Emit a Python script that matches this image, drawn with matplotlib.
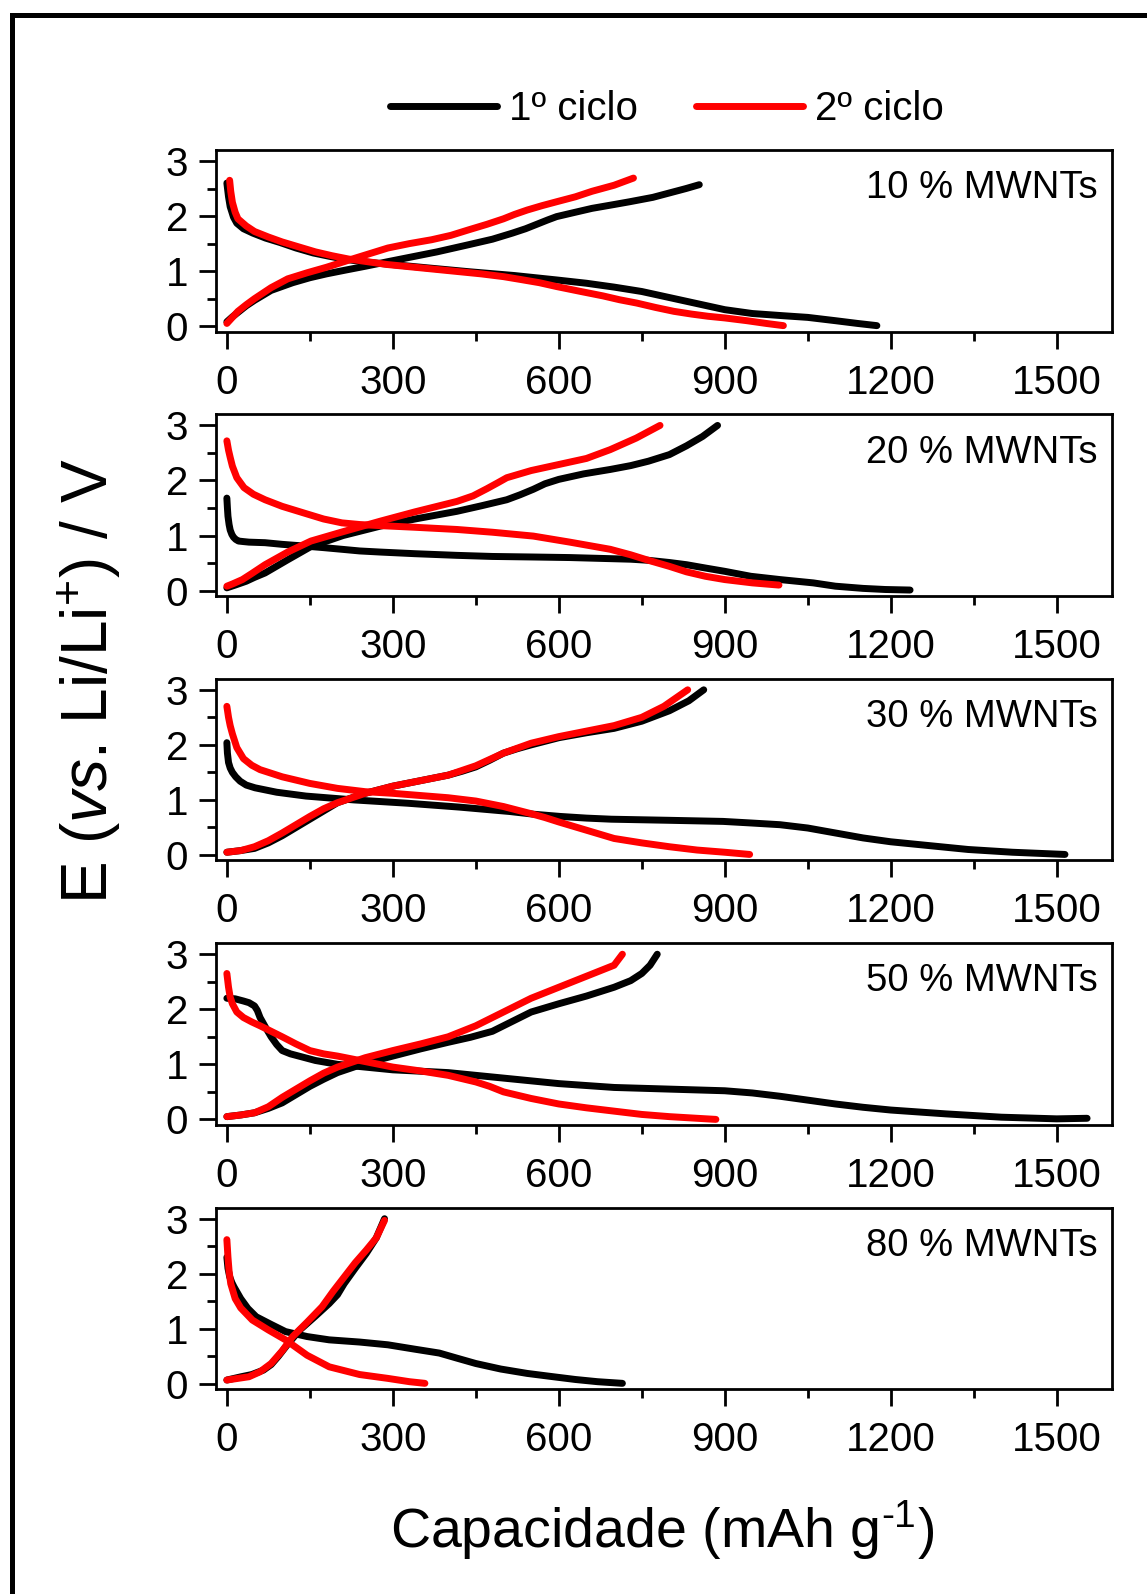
import matplotlib
matplotlib.use("Agg")
import matplotlib.pyplot as plt
from matplotlib.lines import Line2D
from matplotlib.ticker import MultipleLocator

plt.rcParams['font.family'] = ['Liberation Sans', 'DejaVu Sans']
plt.rcParams['mathtext.fontset'] = 'custom'
plt.rcParams['mathtext.rm'] = 'Liberation Sans'
plt.rcParams['mathtext.it'] = 'Liberation Sans:italic'

panel_labels = ['10 % MWNTs', '20 % MWNTs', '30 % MWNTs', '50 % MWNTs', '80 % MWNTs']
legend_labels = ['1º ciclo', '2º ciclo']
x_ticks = [0, 300, 600, 900, 1200, 1500]
y_ticks = [0, 1, 2, 3]

# 10 % MWNTs
c1_dis_10_x = [0, 3, 6, 12, 18, 30, 47, 70, 96, 125, 156, 185, 217, 247, 277, 320, 362, 437, 520, 596, 650, 700, 750, 800, 850, 900, 950, 1006, 1050, 1100, 1140, 1175]
c1_dis_10_y = [2.6, 2.35, 2.17, 1.98, 1.87, 1.77, 1.69, 1.6, 1.52, 1.42, 1.33, 1.27, 1.21, 1.17, 1.14, 1.1, 1.06, 0.99, 0.92, 0.84, 0.78, 0.71, 0.63, 0.52, 0.41, 0.3, 0.23, 0.19, 0.16, 0.1, 0.05, 0.01]
c1_cha_10_x = [0, 10, 20, 35, 50, 80, 119, 150, 180, 215, 251, 290, 330, 380, 437, 480, 516, 540, 560, 580, 596, 630, 660, 700, 728, 770, 800, 830, 854]
c1_cha_10_y = [0.08, 0.17, 0.25, 0.37, 0.47, 0.65, 0.79, 0.88, 0.95, 1.02, 1.09, 1.17, 1.25, 1.35, 1.48, 1.58, 1.69, 1.77, 1.85, 1.93, 1.99, 2.07, 2.14, 2.21, 2.26, 2.34, 2.42, 2.5, 2.57]
c2_dis_10_x = [5, 7, 10, 15, 20, 35, 50, 75, 100, 130, 160, 190, 220, 255, 290, 330, 380, 420, 460, 500, 530, 565, 596, 640, 680, 710, 741, 775, 808, 840, 870, 900, 940, 975, 1006]
c2_dis_10_y = [2.65, 2.45, 2.25, 2.07, 1.95, 1.82, 1.72, 1.62, 1.53, 1.44, 1.35, 1.28, 1.22, 1.17, 1.12, 1.08, 1.03, 0.99, 0.95, 0.9, 0.85, 0.79, 0.72, 0.63, 0.55, 0.48, 0.42, 0.34, 0.27, 0.22, 0.18, 0.15, 0.1, 0.05, 0.01]
c2_cha_10_x = [0, 10, 20, 35, 50, 80, 110, 145, 180, 230, 291, 330, 370, 405, 437, 470, 500, 520, 543, 570, 596, 630, 660, 700, 735]
c2_cha_10_y = [0.05, 0.16, 0.27, 0.39, 0.5, 0.7, 0.86, 0.97, 1.07, 1.23, 1.42, 1.5, 1.57, 1.65, 1.75, 1.85, 1.95, 2.03, 2.11, 2.19, 2.26, 2.35, 2.45, 2.56, 2.69]

# 20 % MWNTs
c1_dis_20_x = [0, 1, 2, 4, 6, 9, 12, 16, 21, 30, 40, 69, 100, 139, 175, 208, 240, 277, 340, 416, 480, 554, 620, 693, 730, 762, 800, 831, 865, 900, 947, 1000, 1060, 1100, 1150, 1190, 1235]
c1_dis_20_y = [1.68, 1.5, 1.35, 1.2, 1.1, 1.02, 0.97, 0.93, 0.9, 0.89, 0.88, 0.87, 0.84, 0.81, 0.78, 0.75, 0.72, 0.7, 0.67, 0.64, 0.62, 0.61, 0.6, 0.58, 0.57, 0.55, 0.51, 0.47, 0.41, 0.35, 0.26, 0.2, 0.14, 0.08, 0.04, 0.02, 0.01]
c1_cha_20_x = [0, 15, 35, 50, 69, 110, 152, 210, 277, 340, 416, 460, 506, 530, 554, 575, 600, 645, 693, 730, 762, 800, 831, 860, 887]
c1_cha_20_y = [0.05, 0.1, 0.17, 0.24, 0.32, 0.56, 0.8, 1.0, 1.17, 1.3, 1.44, 1.54, 1.65, 1.74, 1.84, 1.94, 2.02, 2.12, 2.2, 2.27, 2.35, 2.47, 2.63, 2.8, 3.0]
c2_dis_20_x = [0, 3, 6, 10, 18, 31, 48, 69, 100, 139, 175, 208, 240, 277, 340, 416, 480, 554, 620, 693, 730, 762, 800, 831, 865, 900, 950, 998]
c2_dis_20_y = [2.72, 2.55, 2.42, 2.26, 2.05, 1.87, 1.75, 1.65, 1.53, 1.41, 1.3, 1.23, 1.2, 1.18, 1.15, 1.11, 1.06, 0.99, 0.88, 0.75, 0.65, 0.55, 0.44, 0.34, 0.26, 0.2, 0.14, 0.1]
c2_cha_20_x = [0, 10, 28, 45, 69, 110, 152, 210, 277, 340, 416, 445, 470, 490, 506, 550, 600, 650, 693, 740, 783]
c2_cha_20_y = [0.08, 0.12, 0.2, 0.31, 0.47, 0.7, 0.9, 1.07, 1.26, 1.43, 1.62, 1.72, 1.85, 1.96, 2.05, 2.18, 2.29, 2.4, 2.56, 2.77, 3.0]

# 30 % MWNTs
c1_dis_30_x = [0, 1, 3, 6, 10, 16, 24, 35, 51, 90, 143, 230, 327, 420, 511, 555, 603, 650, 695, 800, 897, 950, 1000, 1050, 1100, 1150, 1200, 1270, 1340, 1420, 1515]
c1_dis_30_y = [2.04, 1.85, 1.68, 1.58, 1.5, 1.42, 1.34, 1.27, 1.22, 1.14, 1.07, 1.0, 0.94, 0.87, 0.79, 0.74, 0.7, 0.67, 0.65, 0.63, 0.61, 0.58, 0.55, 0.49, 0.4, 0.31, 0.24, 0.17, 0.1, 0.05, 0.01]
c1_cha_30_x = [0, 25, 50, 75, 100, 125, 150, 175, 200, 250, 300, 350, 400, 425, 450, 475, 500, 525, 550, 600, 650, 700, 750, 800, 835, 862]
c1_cha_30_y = [0.05, 0.08, 0.12, 0.22, 0.35, 0.5, 0.65, 0.8, 0.95, 1.12, 1.25, 1.35, 1.45, 1.52, 1.6, 1.72, 1.85, 1.93, 2.0, 2.13, 2.22, 2.3, 2.43, 2.62, 2.8, 3.0]
c2_dis_30_x = [0, 3, 6, 10, 18, 30, 45, 60, 100, 150, 200, 250, 300, 350, 400, 450, 500, 550, 575, 600, 650, 700, 750, 800, 850, 900, 945]
c2_dis_30_y = [2.7, 2.5, 2.35, 2.2, 1.95, 1.75, 1.63, 1.55, 1.42, 1.3, 1.21, 1.15, 1.12, 1.08, 1.04, 0.98, 0.88, 0.75, 0.68, 0.6, 0.45, 0.3, 0.22, 0.15, 0.09, 0.05, 0.01]
c2_cha_30_x = [0, 25, 50, 75, 100, 125, 150, 175, 200, 250, 300, 350, 400, 450, 500, 550, 600, 650, 700, 750, 790, 833]
c2_cha_30_y = [0.05, 0.08, 0.15, 0.26, 0.4, 0.55, 0.7, 0.84, 0.95, 1.12, 1.25, 1.35, 1.45, 1.62, 1.85, 2.03, 2.15, 2.25, 2.35, 2.5, 2.7, 3.0]

# 50 % MWNTs
c1_dis_50_x = [0, 15, 30, 40, 50, 55, 60, 70, 80, 90, 100, 115, 130, 160, 200, 250, 300, 400, 500, 600, 700, 800, 900, 950, 1000, 1050, 1100, 1150, 1200, 1300, 1400, 1500, 1555]
c1_dis_50_y = [2.2, 2.19, 2.15, 2.12, 2.06, 1.98, 1.85, 1.67, 1.5, 1.36, 1.25, 1.19, 1.15, 1.07, 1.0, 0.95, 0.9, 0.85, 0.75, 0.65, 0.58, 0.55, 0.52, 0.48, 0.42, 0.35, 0.28, 0.22, 0.17, 0.1, 0.04, 0.01, 0.02]
c1_cha_50_x = [0, 25, 50, 75, 100, 125, 150, 175, 200, 250, 300, 350, 400, 440, 480, 500, 520, 550, 600, 650, 700, 730, 750, 765, 778]
c1_cha_50_y = [0.05, 0.08, 0.12, 0.2, 0.3, 0.45, 0.6, 0.73, 0.85, 1.02, 1.15, 1.28, 1.4, 1.49, 1.6, 1.7, 1.8, 1.95, 2.1, 2.24, 2.4, 2.52, 2.65, 2.8, 3.0]
c2_dis_50_x = [0, 3, 6, 10, 18, 30, 45, 60, 80, 100, 125, 150, 175, 200, 250, 300, 350, 400, 450, 475, 500, 550, 600, 650, 700, 750, 800, 850, 884]
c2_dis_50_y = [2.65, 2.4, 2.22, 2.1, 1.95, 1.85, 1.77, 1.7, 1.6, 1.5, 1.37, 1.25, 1.19, 1.15, 1.05, 0.95, 0.88, 0.8, 0.68, 0.6, 0.5, 0.38, 0.28, 0.21, 0.15, 0.09, 0.05, 0.02, 0.0]
c2_cha_50_x = [0, 25, 50, 75, 100, 125, 150, 175, 200, 250, 300, 350, 400, 450, 500, 550, 600, 650, 700, 715]
c2_cha_50_y = [0.05, 0.08, 0.12, 0.23, 0.4, 0.55, 0.7, 0.84, 0.95, 1.12, 1.25, 1.37, 1.5, 1.7, 1.95, 2.2, 2.4, 2.6, 2.8, 3.0]

# 80 % MWNTs
c1_dis_80_x = [0, 2, 5, 9, 13, 25, 38, 53, 80, 106, 145, 185, 240, 291, 340, 384, 415, 450, 495, 543, 590, 630, 670, 715]
c1_dis_80_y = [2.3, 2.1, 1.95, 1.84, 1.76, 1.55, 1.37, 1.22, 1.08, 0.95, 0.86, 0.8, 0.76, 0.71, 0.63, 0.56, 0.47, 0.37, 0.27, 0.19, 0.13, 0.08, 0.04, 0.01]
c1_cha_80_x = [0, 26, 45, 66, 80, 93, 110, 132, 160, 185, 200, 212, 232, 252, 270, 285]
c1_cha_80_y = [0.07, 0.13, 0.17, 0.25, 0.35, 0.5, 0.72, 0.98, 1.23, 1.46, 1.62, 1.82, 2.1, 2.37, 2.65, 3.0]
c2_dis_80_x = [0, 2, 4, 7, 15, 25, 46, 75, 106, 145, 185, 240, 291, 330, 358]
c2_dis_80_y = [2.62, 2.3, 2.05, 1.82, 1.55, 1.38, 1.16, 0.98, 0.8, 0.52, 0.31, 0.17, 0.1, 0.04, 0.01]
c2_cha_80_x = [0, 20, 40, 60, 80, 100, 119, 145, 172, 192, 212, 232, 252, 270, 285]
c2_cha_80_y = [0.07, 0.1, 0.13, 0.22, 0.37, 0.6, 0.86, 1.12, 1.4, 1.68, 1.94, 2.2, 2.43, 2.65, 2.97]

panels = [
    [(c1_dis_10_x, c1_dis_10_y), (c1_cha_10_x, c1_cha_10_y), (c2_dis_10_x, c2_dis_10_y), (c2_cha_10_x, c2_cha_10_y)],
    [(c1_dis_20_x, c1_dis_20_y), (c1_cha_20_x, c1_cha_20_y), (c2_dis_20_x, c2_dis_20_y), (c2_cha_20_x, c2_cha_20_y)],
    [(c1_dis_30_x, c1_dis_30_y), (c1_cha_30_x, c1_cha_30_y), (c2_dis_30_x, c2_dis_30_y), (c2_cha_30_x, c2_cha_30_y)],
    [(c1_dis_50_x, c1_dis_50_y), (c1_cha_50_x, c1_cha_50_y), (c2_dis_50_x, c2_dis_50_y), (c2_cha_50_x, c2_cha_50_y)],
    [(c1_dis_80_x, c1_dis_80_y), (c1_cha_80_x, c1_cha_80_y), (c2_dis_80_x, c2_dis_80_y), (c2_cha_80_x, c2_cha_80_y)],
]

W, H = 1147, 1594
fig = plt.figure(figsize=(W / 100, H / 100), dpi=100)

ax_left = 215.8 / W
ax_w = (1112 - 215.8) / W
ax_h = 181.7 / H
tops = [150, 414.4, 678.8, 943.2, 1207.7]
colors = ['black', 'black', 'red', 'red']

for i, curves in enumerate(panels):
    ax = fig.add_axes([ax_left, 1 - (tops[i] + 181.7) / H, ax_w, ax_h])
    for (x, y), c in zip(curves, colors):
        ax.plot(x, y, color=c, lw=5, solid_capstyle='round', solid_joinstyle='round')
    ax.set_xlim(-20, 1600)
    ax.set_ylim(-0.1, 3.2)
    ax.set_xticks(x_ticks)
    ax.set_yticks(y_ticks)
    ax.xaxis.set_minor_locator(MultipleLocator(150))
    ax.yaxis.set_minor_locator(MultipleLocator(0.5))
    ax.tick_params(which='major', direction='out', length=12, width=2, labelsize=29)
    ax.tick_params(which='minor', direction='out', length=6.5, width=2)
    ax.tick_params(axis='x', which='major', pad=11)
    ax.tick_params(axis='y', which='major', pad=8)
    for s in ax.spines.values():
        s.set_linewidth(2)
    ax.text(0.984, 0.79, panel_labels[i], transform=ax.transAxes,
            ha='right', va='center', fontsize=27.5)

handles = [Line2D([], [], color='black', lw=5, solid_capstyle='round'),
           Line2D([], [], color='red', lw=5, solid_capstyle='round')]
fig.legend(handles, legend_labels, loc='center', bbox_to_anchor=(667 / W, 1 - 109 / H),
           ncol=2, frameon=False, fontsize=29, handlelength=2.65, handletextpad=0.3,
           columnspacing=1.45)

fig.text(89.5 / W, 1 - 681 / H, r'E ($\mathit{vs}$. Li/Li$^{+}$) / V', rotation=90,
         ha='center', va='center', fontsize=46)
fig.text(662 / W, 1 - 1530 / H, r'Capacidade (mAh g$^{\text{-}1}$)', ha='center', va='center', fontsize=40)

# outer frame (top and left edges only)
fig.add_artist(Line2D([11.5 / W, 1.0], [1 - 15 / H, 1 - 15 / H], color='black', lw=3.6,
                      solid_capstyle='projecting', transform=fig.transFigure))
fig.add_artist(Line2D([11.5 / W, 11.5 / W], [0.0, 1 - 15 / H], color='black', lw=3.6,
                      solid_capstyle='projecting', transform=fig.transFigure))

fig.savefig('out.png', dpi=100)
